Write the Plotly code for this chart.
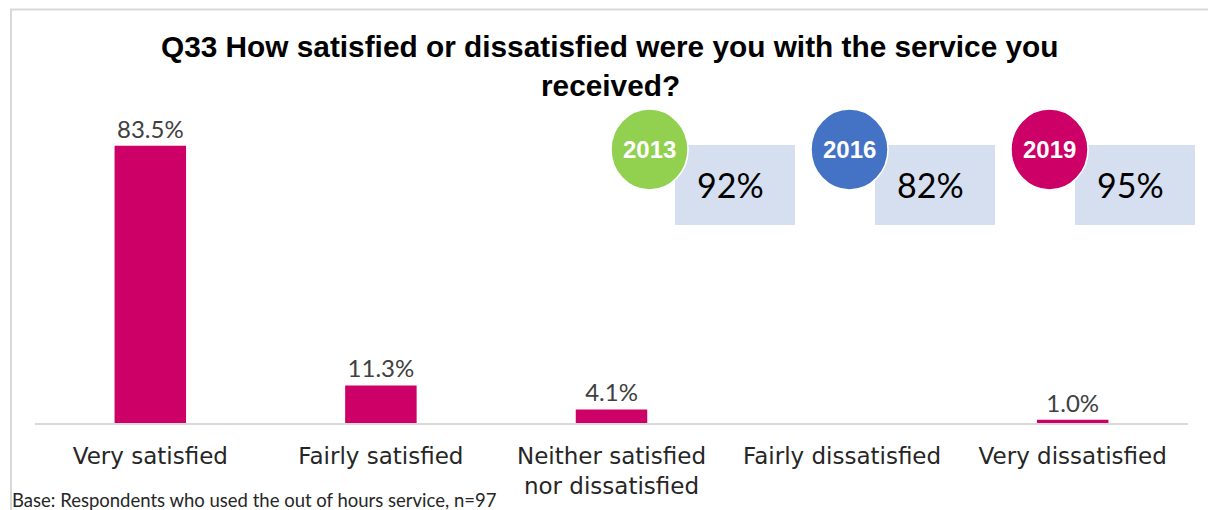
import plotly.graph_objects as go

categories = ["Very satisfied", "Fairly satisfied", "Neither satisfied<br>nor dissatisfied",
              "Fairly dissatisfied", "Very dissatisfied"]
values = [83.5, 11.3, 4.1, None, 1.0]

years = ["2013", "2016", "2019"]
year_scores = ["92%", "82%", "95%"]
year_colors = ["#92D050", "#4472C4", "#CC0066"]

title_lines = ["Q33 How satisfied or dissatisfied were you with the service you", "received?"]
base_note = "Base: Respondents who used the out of hours service, n=97"

W, H = 1208, 510
ML, MR, MT, MB = 35, 20, 91, 87
PW, PH = W - ML - MR, H - MT - MB

FONT = "Lato, sans-serif"
TICK_FONT = "DejaVu Sans, sans-serif"
BOLD_FONT = "Arial, Liberation Sans, sans-serif"


def px(x):
    return (x - ML) / PW


def py(y):
    return (H - MB - y) / PH


fig = go.Figure()
fig.add_trace(go.Bar(
    x=categories, y=values, width=0.31,
    marker=dict(color="#CC0066", line=dict(width=0)),
    text=[f"{v:.1f}%" if v is not None else "" for v in values],
    textposition="outside", cliponaxis=False,
    textfont=dict(family=FONT, size=24, color="#404040"),
    hoverinfo="skip",
))

shapes = [
    # outer frame
    dict(type="rect", xref="paper", yref="paper", x0=px(11), x1=px(1240), y0=py(9.5), y1=py(560),
         line=dict(color="#D9D9D9", width=2), fillcolor="rgba(0,0,0,0)", layer="below"),
]
annotations = [
    dict(text=f"<b>{title_lines[0]}</b>", xref="paper", yref="paper", x=px(610), y=py(47),
         xanchor="center", yanchor="middle", showarrow=False,
         font=dict(family=BOLD_FONT, size=29.8, color="#000000")),
    dict(text=f"<b>{title_lines[1]}</b>", xref="paper", yref="paper", x=px(610), y=py(85),
         xanchor="center", yanchor="middle", showarrow=False,
         font=dict(family=BOLD_FONT, size=29.8, color="#000000")),
    dict(text=base_note, xref="paper", yref="paper", x=px(10), y=py(500),
         xanchor="left", yanchor="middle", showarrow=False,
         font=dict(family=FONT, size=18.5, color="#262626")),
]

for i, (yr, sc, col) in enumerate(zip(years, year_scores, year_colors)):
    off = 200 * i
    shapes.append(dict(type="rect", xref="paper", yref="paper",
                       x0=px(675 + off), x1=px(795 + off), y0=py(145), y1=py(225),
                       fillcolor="#D6DFF0", line=dict(width=0), layer="above"))
    shapes.append(dict(type="circle", xref="paper", yref="paper",
                       x0=px(611 + off), x1=px(688 + off), y0=py(109), y1=py(190),
                       fillcolor=col, line=dict(color="white", width=1.5), layer="above"))
    annotations.append(dict(text=f"<b>{yr}</b>", xref="paper", yref="paper",
                            x=px(649 + off), y=py(149), xanchor="center", yanchor="middle",
                            showarrow=False,
                            font=dict(family=BOLD_FONT, size=24, color="white")))
    annotations.append(dict(text=sc, xref="paper", yref="paper",
                            x=px(730 + off), y=py(184), xanchor="center", yanchor="middle",
                            showarrow=False,
                            font=dict(family=FONT, size=34, color="#000000")))

fig.update_layout(
    width=W, height=H,
    margin=dict(l=ML, r=MR, t=MT, b=MB, pad=0),
    paper_bgcolor="white", plot_bgcolor="white",
    showlegend=False, bargap=0.69,
    shapes=shapes, annotations=annotations,
    xaxis=dict(showline=True, linecolor="#D9D9D9", linewidth=1.5, showgrid=False,
               ticks="outside", ticklen=12, tickcolor="rgba(0,0,0,0)",
               tickfont=dict(family=TICK_FONT, size=23, color="#262626"), fixedrange=True),
    yaxis=dict(range=[0, 100], visible=False, showgrid=False, fixedrange=True),
)

fig.write_html("out.html")
